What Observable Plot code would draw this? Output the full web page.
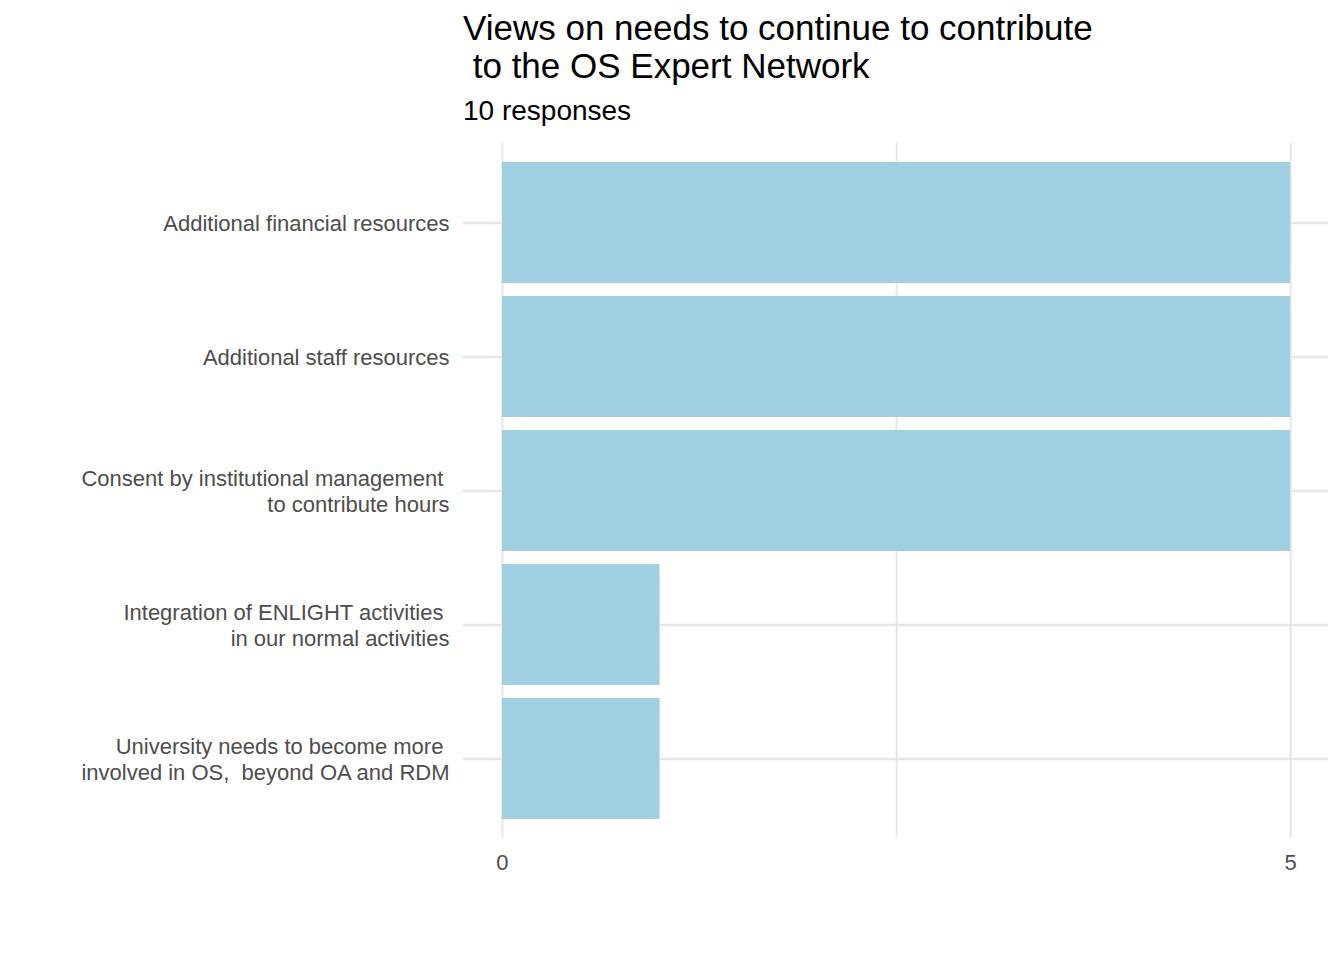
<!DOCTYPE html>
<html>
<head>
<meta charset="utf-8">
<script src="https://cdn.jsdelivr.net/npm/d3@7"></script>
<script src="https://cdn.jsdelivr.net/npm/@observablehq/plot@0.6"></script>
<style>
  body { margin: 0; background: #fff; font-family: "Liberation Sans", Arial, sans-serif; }
  #wrap { position: relative; width: 1344px; height: 960px; }
  #title { position: absolute; left: 463px; top: 9px; font-size: 35px; line-height: 38px; color: #000; white-space: pre; }
  #subtitle { position: absolute; left: 463px; top: 95px; font-size: 28px; color: #000; }
  #chart { position: absolute; left: 0; top: 0; }
</style>
</head>
<body>
<div id="wrap">
  <div id="chart"></div>
  <div id="title">Views on needs to continue to contribute
 to the OS Expert Network</div>
  <div id="subtitle">10 responses</div>
</div>
<script>
// categories and counts
const needs = [
  "Additional financial resources",
  "Additional staff resources",
  "Consent by institutional management \nto contribute hours",
  "Integration of ENLIGHT activities \nin our normal activities",
  "University needs to become more \ninvolved in OS,  beyond OA and RDM"
]
const counts = [5, 5, 5, 1, 1]
const xTicks = [0, 5]

const data = needs.map((d, i) => ({need: d, n: counts[i]}))

let chart = Plot.plot({
  width: 1344,
  height: 960,
  marginLeft: 463,
  marginRight: 16,
  marginTop: 143,
  marginBottom: 122,
  style: {fontFamily: "Liberation Sans, Arial, sans-serif", fontSize: "22px", color: "#4D4D4D"},
  x: {domain: [-0.247, 5.24], label: null},
  y: {domain: needs, padding: 0.1, paddingOuter: 0.14, label: null},
  marks: [
    Plot.gridX([0, 2.5, 5], {stroke: "#E6E6E6", strokeOpacity: 1, strokeWidth: 2}),
    Plot.gridY({stroke: "#E6E6E6", strokeOpacity: 1, strokeWidth: 2.5}),
    Plot.barX(data, {x1: 0, x2: "n", y: "need", fill: "#9FCFE0"}),
    Plot.axisX(xTicks, {tickSize: 0, tickPadding: 16, fontSize: 22, fill: "#4D4D4D", label: null, tickFormat: "d"}),
    Plot.axisY({tickSize: 0, tickPadding: 14, fontSize: 22, fill: "#4D4D4D", label: null, lineHeight: 1.15})
  ]
})

d3.select('#chart').append(() => chart)
</script>
</body>
</html>
